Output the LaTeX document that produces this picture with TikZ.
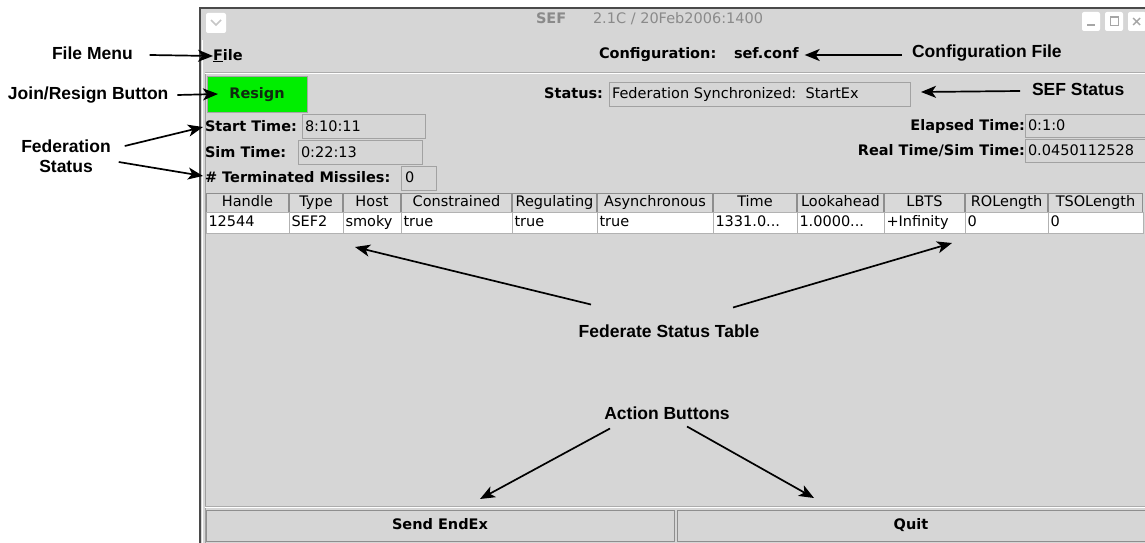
\documentclass[tikz,border=0pt]{standalone}
\usepackage{fontspec}
\newfontfamily\guifont{DejaVu Sans}
\newfontfamily\annfont{Liberation Sans}
\usetikzlibrary{arrows.meta,calc}
\definecolor{winbg}{HTML}{D6D6D6}
\definecolor{fieldline}{HTML}{A2A2A2}
\definecolor{hdrfill}{HTML}{D9D9D9}
\definecolor{hdrline}{HTML}{8E8E8E}
\definecolor{gridline}{HTML}{B2B2B2}
\definecolor{titlegray}{HTML}{8A8A8A}
\definecolor{resigngreen}{RGB}{0,238,0}
\definecolor{resigntext}{HTML}{102A10}
\definecolor{winborder}{HTML}{4A4A4A}
\newcommand\mydots{...}
\tikzset{
  gui/.style={font=\guifont\fontsize{14.5}{17}\selectfont, inner sep=0pt, outer sep=0pt, text height=11pt, text depth=3pt},
  guib/.style={gui, font=\guifont\bfseries\fontsize{14.5}{17}\selectfont},
  annbase/.style={font=\annfont\bfseries\fontsize{17.5}{21}\selectfont, inner sep=0pt, outer sep=0pt},
  ann/.style={annbase, text height=13pt, text depth=4pt},
  annarrow/.style={-{Stealth[length=15pt,width=12pt,inset=4pt]}, line width=1.7pt, black},
  field/.style={draw=fieldline, line width=0.9pt},
  hdrcell/.style={draw=hdrline, fill=hdrfill, line width=0.8pt},
  datacell/.style={draw=gridline, fill=white, line width=0.8pt},
  btnbox/.style={draw=hdrline, fill=winbg, line width=0.9pt},
  wbtn/.style={fill=white, rounded corners=2pt},
  wsym/.style={draw=gray!70, line width=1.4pt}
}
\begin{document}
\begin{tikzpicture}[x=1pt,y=-1pt]
\useasboundingbox (0,0) rectangle (1145,543);
\fill[white] (0,0) rectangle (1145,543);
% window
\fill[winbg] (199,8) rectangle (1145,543);
\draw[winborder, line width=2pt] (200,543) -- (200,8.5) -- (1145,8.5);
\draw[white, line width=1.2pt] (202.6,40) -- (202.6,543);
\draw[gray!75, line width=0.9pt] (205.5,72) -- (205.5,543);
% title bar
\fill[wbtn] (206,13) rectangle (226,33);
\draw[draw=gray!45, line width=1.5pt] (211,20) -- (216,25) -- (221,20);
\node[gui, anchor=west, text=titlegray, font=\guifont\bfseries\fontsize{14.5}{17}\selectfont] (tsef) at (536,20) {SEF};
\node[gui, anchor=west, text=titlegray] (tver) at (593,20) {2.1C / 20Feb2006:1400};
\fill[wbtn] (1082,12) rectangle (1100,31);
\fill[wbtn] (1105,12) rectangle (1123,31);
\fill[wbtn] (1128,12) rectangle (1146,31);
\draw[wsym] (1087,25) -- (1095,25);
\draw[draw=gray!70, line width=1pt] (1110,17) rectangle (1118,26);
\draw[draw=gray!70, line width=1.8pt] (1110,17.5) -- (1118,17.5);
\draw[wsym] (1133,18) -- (1140,25) (1140,18) -- (1133,25);
% menu row
\node[guib, anchor=west] (file) at (213,56) {\underline{F}ile};
\node[guib, anchor=west] (config) at (599,55) {Configuration:};
\node[guib, anchor=west] (sefconf) at (734,55) {sef.conf};
\draw[gray!65, line width=0.9pt] (205,72.5) -- (1145,72.5);
\draw[white, line width=0.9pt] (205,73.6) -- (1145,73.6);
% resign + status
\draw[fill=resigngreen, draw=gray!70, line width=0.9pt] (207,76) rectangle (307,112);
\node[guib, text=resigntext] (resign) at (257,94) {Resign};
\node[guib, anchor=east] (statuslbl) at (603,94) {Status:};
\draw[field] (609,82) rectangle (910,106);
\node[gui, anchor=west] (status) at (612,94) {Federation Synchronized:\ \ StartEx};
\coordinate (statusfield) at (910,92);
% time fields
\node[guib, anchor=west] (starttime) at (205,127) {Start Time:};
\draw[field] (302,114) rectangle (425,138);
\node[gui, anchor=west] (startval) at (305,127) {8:10:11};
\node[guib, anchor=west] (simtime) at (205,153) {Sim Time:};
\draw[field] (298,140) rectangle (422,164);
\node[gui, anchor=west] (simval) at (301,153) {0:22:13};
\node[guib, anchor=west] (terminated) at (205,178) {\# Terminated Missiles:};
\draw[field] (401,166) rectangle (436,190);
\node[gui, anchor=west] (termval) at (405,178) {0};
\node[guib, anchor=east] (elapsed) at (1025,126) {Elapsed Time:};
\draw[field] (1025,114) rectangle (1150,137);
\node[gui, anchor=west] (elapsedval) at (1028,126) {0:1:0};
\node[guib, anchor=east] (realsim) at (1025,151) {Real Time/Sim Time:};
\draw[field] (1025,139) rectangle (1150,162);
\node[gui, anchor=west] (realsimval) at (1028,151) {0.0450112528};
% table
\foreach \a/\b/\t [count=\i] in {206/289/Handle, 289/343/Type, 343/401/Host, 401/512/Constrained, 512/597/Regulating, 597/713/Asynchronous, 713/797/Time, 797/884/Lookahead, 884/965/LBTS, 965/1048/ROLength, 1048/1143/TSOLength}{
  \draw[hdrcell] ({\a+0.5},193) rectangle ({\b-0.5},212);
  \node[gui] (h\i) at ({(\a+\b)/2},202.5) {\t};
}
\foreach \a/\b/\t [count=\i] in {206/289/12544, 289/343/SEF2, 343/401/smoky, 401/512/true, 512/597/true, 597/713/true, 713/797/1331.0\mydots, 797/884/1.0000\mydots, 884/965/+Infinity, 965/1048/0, 1048/1143/0}{
  \draw[datacell] (\a,212) rectangle (\b,233);
  \node[gui, anchor=west] (d\i) at ({\a+2.5},222.5) {\t};
}
% bottom buttons
\draw[gray!65, line width=0.9pt] (205,506) -- (1145,506);
\draw[white, line width=0.9pt] (205,507.3) -- (1145,507.3);
\draw[btnbox] (206,510) rectangle (674,541);
\draw[btnbox] (677,510) rectangle (1146,541);
\node[guib] (sendendex) at (440,525.5) {Send EndEx};
\node[guib] (quit) at (911,525.5) {Quit};
% annotations
\node[ann, anchor=west] (filemenu) at (52,55) {File Menu};
\draw[annarrow] ([xshift=17pt]filemenu.east) -- (file.west);
\node[ann, anchor=west] (joinlbl) at (8,95) {Join/Resign Button};
\draw[annarrow] ([xshift=9pt]joinlbl.east) -- ([xshift=11pt]resign.west -| 207,95);
\node[annbase, align=center] (fedlbl) at (66,156) {Federation\\[-1pt]Status};
\draw[annarrow] ($(fedlbl.east)+(14,-10)$) -- ([xshift=-2pt]starttime.west);
\draw[annarrow] ($(fedlbl.east)+(8,6)$) -- ([xshift=-2pt,yshift=2pt]terminated.west);
\node[ann, anchor=west] (configlbl) at (912,53) {Configuration File};
\draw[annarrow] ([xshift=-10pt]configlbl.west |- sefconf.east) -- ([xshift=6pt]sefconf.east);
\node[ann, anchor=west] (seflbl) at (1032,91) {SEF Status};
\draw[annarrow] ([xshift=-12pt]seflbl.west) -- ([xshift=11pt]statusfield);
\node[ann] (fstlbl) at (669,333) {Federate Status Table};
\coordinate (tblleft) at (355,247);
\coordinate (tblright) at (952,243);
\draw[annarrow] ($(fstlbl.north)+(-78,-20)$) -- (tblleft);
\draw[annarrow] ($(fstlbl.north)+(64,-17)$) -- (tblright);
\node[ann] (actlbl) at (667,415) {Action Buttons};
\coordinate (sendtip) at (480,499);
\coordinate (quittip) at (814,498);
\draw[annarrow] ($(actlbl.south)+(-57,5)$) -- (sendtip);
\draw[annarrow] ($(actlbl.south)+(20,3)$) -- (quittip);
\end{tikzpicture}
\end{document}
